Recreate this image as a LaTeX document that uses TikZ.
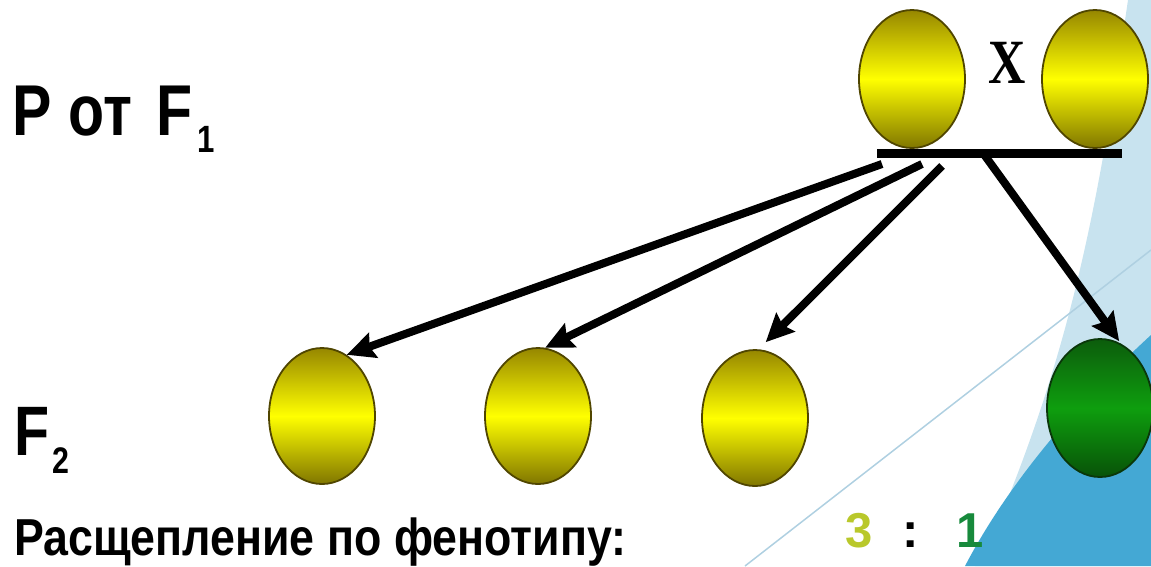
\documentclass[tikz,border=0pt]{standalone}
\usepackage{fontspec}
\setmainfont{Liberation Sans}[FakeStretch=0.82]
\newfontfamily\widefont{Liberation Sans}[FakeStretch=0.86]
\newfontfamily\plainfont{Liberation Sans}
\newfontfamily\crossfont{Liberation Serif}[FakeStretch=0.82]
\usetikzlibrary{shapes.geometric,arrows.meta}

\definecolor{paleblue}{RGB}{200,227,239}
\definecolor{deepblue}{RGB}{68,168,212}
\definecolor{slantline}{RGB}{175,208,225}
\definecolor{peaTop}{RGB}{150,135,0}
\definecolor{peaMid}{RGB}{255,255,0}
\definecolor{peaBot}{RGB}{128,118,0}
\definecolor{peaEdge}{RGB}{80,70,0}
\definecolor{greenTop}{RGB}{12,92,12}
\definecolor{greenMid}{RGB}{14,158,14}
\definecolor{greenBot}{RGB}{8,82,8}
\definecolor{greenEdge}{RGB}{10,55,10}
\definecolor{ratioYellow}{RGB}{185,200,43}
\definecolor{ratioGreen}{RGB}{23,138,60}

\tikzset{
  pea/.style={ellipse, minimum width=106pt, minimum height=#1, inner sep=0pt, line width=1.8pt},
  yellowpea/.style={pea=#1, draw=peaEdge, top color=peaTop, bottom color=peaBot, middle color=peaMid},
  greenpea/.style={pea=#1, draw=greenEdge, top color=greenTop, bottom color=greenBot, middle color=greenMid},
  conn/.style={line width=8pt, -{Stealth[length=28pt,width=26pt,inset=4pt]}},
  label/.style={anchor=base west, inner sep=0pt, font=\bfseries}
}

\begin{document}
\begin{tikzpicture}[x=1pt,y=-1pt]
\useasboundingbox (0,0) rectangle (1151,566);

% slide background decoration
\fill[paleblue] (1128,0) -- (1151,0) -- (1151,566) -- (975,566) -- (995,530)
  .. controls (1075,340) and (1100,190) .. (1128,0) -- cycle;
\fill[deepblue] (1151,335) .. controls (1080,400) and (1010,480) .. (965,566)
  -- (1151,566) -- cycle;
\draw[slantline, line width=1.5pt] (745,566) -- (1151,250);

% parents
\node[yellowpea=138pt] (pa) at (912,79) {};
\node[yellowpea=138pt] (pb) at (1095,79) {};
\node[anchor=base, inner sep=0pt, font=\crossfont\bfseries\fontsize{63}{63}\selectfont] (cross) at (1007,83) {X};
\node[fill=black, minimum width=245pt, minimum height=9pt, inner sep=0pt] (bar) at (999.5,153) {};

% offspring
\node[yellowpea=136pt] (e1) at (322,416) {};
\node[yellowpea=136pt] (e2) at (538,416) {};
\node[yellowpea=136pt] (e3) at (755,418) {};
\node[greenpea=138pt] (g) at (1100,408) {};

% arrow starts just under the bar
\coordinate (s1) at (882,164);
\coordinate (s2) at (922,164);
\coordinate (s3) at (942,166);
\coordinate (s4) at (983,153);

\draw[conn] (s1) -- (e1.68);
\draw[conn] (s2) -- (e2.84);
\draw[conn, shorten >=10pt] (s3) -- (e3.87);
\draw[conn, shorten >=3pt] (s4) -- (g.72);

% labels
\node[label, font=\bfseries\fontsize{72}{72}\selectfont] (p) at (12.5,135)
  {P от\hspace{25pt}F\hspace{4pt}\raisebox{-17pt}{\fontsize{38}{38}\selectfont 1}};
\node[label, font=\bfseries\fontsize{70}{70}\selectfont] (f2) at (14,455)
  {F\hspace{3pt}\raisebox{-18pt}{\fontsize{37}{37}\selectfont 2}};
\node[label, font=\widefont\bfseries\fontsize{52}{52}\selectfont] (split) at (14,555)
  {Расщепление по фенотипу:};
\node[label, font=\plainfont\bfseries\fontsize{49}{49}\selectfont] (ratio) at (845,547)
  {\textcolor{ratioYellow}{3}\hspace{30pt}:\hspace{38pt}\textcolor{ratioGreen}{1}};
\end{tikzpicture}
\end{document}
